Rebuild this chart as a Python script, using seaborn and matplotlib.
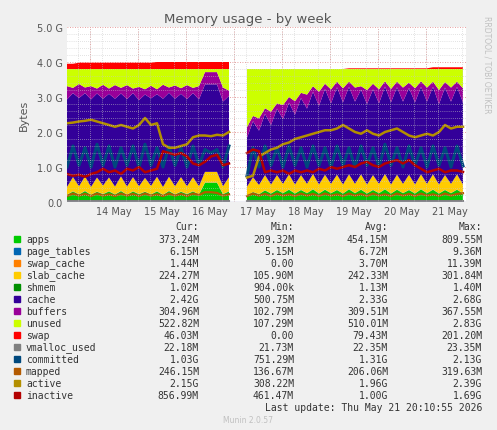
import numpy as np
import matplotlib
matplotlib.use("Agg")
import matplotlib.pyplot as plt
import seaborn as sns
import pandas as pd

NaN = float("nan")
hours = list(range(0, 199, 3))

apps = [0.20,0.30,0.21,0.31,0.20,0.29,0.22,0.30,0.21,0.31,0.20,0.30,0.22,0.29,0.21,0.30,0.20,0.31,0.21,0.29,0.22,0.30,0.21,0.55,0.55,0.55,0.22,0.30,
        NaN,NaN,
        0.18,0.28,0.22,0.33,0.24,0.34,0.25,0.35,0.24,0.34,0.25,0.36,0.24,0.35,0.25,0.34,0.24,0.36,0.25,0.35,0.24,0.34,0.25,0.36,0.24,0.35,0.25,0.34,0.24,0.36,0.25,0.35,0.24,0.34,0.25,0.35,0.24]
page_tables = [0.006]*28 + [NaN,NaN] + [0.006]*37
swap_cache = [0.004]*28 + [NaN,NaN] + [0.002]*37
slab_cache = [0.22,0.40,0.23,0.41,0.22,0.40,0.24,0.39,0.22,0.41,0.23,0.40,0.22,0.39,0.24,0.41,0.22,0.40,0.23,0.41,0.22,0.40,0.23,0.30,0.30,0.30,0.22,0.40,
              NaN,NaN,
              0.25,0.42,0.26,0.43,0.25,0.42,0.26,0.43,0.25,0.42,0.26,0.43,0.25,0.42,0.26,0.43,0.25,0.42,0.26,0.43,0.25,0.42,0.26,0.43,0.25,0.42,0.26,0.43,0.25,0.42,0.26,0.43,0.25,0.42,0.26,0.43,0.25]
shmem = [0.001]*28 + [NaN,NaN] + [0.001]*37
cache = [2.50,2.40,2.52,2.38,2.50,2.40,2.48,2.39,2.51,2.37,2.50,2.40,2.46,2.38,2.50,2.36,2.52,2.40,2.50,2.38,2.49,2.40,2.48,2.50,2.50,2.50,2.42,2.32,
         NaN,NaN,
         1.40,1.60,1.55,1.75,1.70,1.90,1.85,2.05,2.00,2.20,2.15,2.35,2.25,2.45,2.30,2.50,2.35,2.50,2.35,2.42,2.30,2.45,2.30,2.50,2.35,2.50,2.35,2.48,2.35,2.50,2.35,2.50,2.30,2.50,2.35,2.50,2.35]
buffers = [0.38,0.15,0.40,0.16,0.38,0.14,0.40,0.15,0.39,0.16,0.40,0.13,0.38,0.15,0.36,0.14,0.40,0.15,0.38,0.16,0.40,0.15,0.38,0.35,0.35,0.35,0.40,0.15,
           NaN,NaN,
           0.30,0.15,0.35,0.16,0.38,0.15,0.40,0.16,0.38,0.15,0.40,0.16,0.40,0.15,0.40,0.16,0.40,0.15,0.40,0.10,0.40,0.16,0.40,0.15,0.38,0.16,0.40,0.15,0.40,0.16,0.40,0.15,0.40,0.16,0.40,0.15,0.40]
total_mem = 3.80
swap = [0.15,0.15,0.18,0.18,0.18,0.18,0.18,0.18,0.18,0.18,0.18,0.18,0.18,0.18,0.18,0.20,0.20,0.20,0.20,0.20,0.20,0.20,0.20,0.20,0.20,0.20,0.20,0.20,
        NaN,NaN,
        0,0,0,0,0,0,0,0,0,0,0,0,0,0,0,0,0,0.02,0.02,0.02,0.02,0.02,0.02,0.02,0.02,0.02,0.02,0.02,0.02,0.02,0.02,0.05,0.05,0.05,0.05,0.05,0.05]
vmalloc_used = [0.022]*28 + [NaN,NaN] + [0.022]*37
committed = [1.0,1.6,1.05,1.55,1.0,1.65,1.05,1.6,1.0,1.55,1.05,1.6,1.0,1.65,1.05,1.55,1.0,1.6,1.05,1.55,1.0,1.6,1.05,1.5,1.4,1.5,1.0,1.6,
             NaN,NaN,
             0.75,1.55,1.0,1.6,1.05,1.55,1.0,1.6,1.05,1.55,1.0,1.6,1.05,1.55,1.0,1.6,1.05,1.55,1.0,1.6,1.05,1.55,1.0,1.65,1.05,1.55,1.0,1.6,1.05,1.55,1.0,1.6,1.05,1.55,1.0,1.6,1.03]
mapped = [0.17,0.24,0.18,0.23,0.17,0.24,0.18,0.22,0.17,0.24,0.18,0.23,0.17,0.24,0.18,0.22,0.17,0.24,0.18,0.23,0.17,0.24,0.20,0.28,0.28,0.26,0.18,0.22,
          NaN,NaN,
          0.17,0.24,0.18,0.23,0.17,0.24,0.18,0.22,0.17,0.24,0.18,0.23,0.17,0.24,0.18,0.22,0.17,0.24,0.18,0.23,0.17,0.24,0.18,0.22,0.17,0.24,0.18,0.23,0.17,0.24,0.18,0.22,0.17,0.24,0.18,0.23,0.25]
active = [2.25,2.27,2.30,2.32,2.35,2.30,2.25,2.20,2.15,2.20,2.15,2.10,2.20,2.40,2.20,2.25,1.65,1.55,1.55,1.60,1.65,1.85,1.90,1.90,1.88,1.92,1.90,2.00,
          NaN,NaN,
          0.70,0.75,1.30,1.40,1.50,1.55,1.65,1.70,1.80,1.85,1.90,1.95,2.00,2.05,2.05,2.10,2.20,2.10,2.00,1.95,2.05,1.95,1.90,2.00,2.05,2.10,2.00,1.90,1.85,1.90,1.95,1.90,2.00,2.20,2.10,2.15,2.15]
inactive = [0.80,0.75,0.78,0.72,0.80,0.85,0.95,0.85,0.90,0.80,0.95,0.90,1.00,0.85,0.90,0.95,1.45,1.40,1.35,1.40,1.30,1.10,1.05,1.15,1.30,1.35,1.05,1.10,
            NaN,NaN,
            1.40,1.50,1.45,0.85,0.90,0.85,0.90,0.80,0.90,0.85,0.90,0.85,0.95,0.90,1.00,0.95,1.00,1.05,1.00,1.10,1.15,1.05,1.00,1.10,1.15,1.20,1.10,1.20,1.05,0.95,0.85,0.90,0.95,0.85,0.90,0.90,0.86]

names = ["apps","page_tables","swap_cache","slab_cache","shmem","cache","buffers","unused","swap",
         "vmalloc_used","committed","mapped","active","inactive"]
colors = ["#00CC00","#0066B3","#FF8000","#FFCC00","#008F00","#330099","#990099","#CCFF00","#FF0000",
          "#808080","#00487D","#B35A00","#B38F00","#B30000"]
cur = ["373.24M","6.15M","1.44M","224.27M","1.02M","2.42G","304.96M","522.82M","46.03M","22.18M","1.03G","246.15M","2.15G","856.99M"]
mins = ["209.32M","5.15M","0.00","105.90M","904.00k","500.75M","102.79M","107.29M","0.00","21.73M","751.29M","136.67M","308.22M","461.47M"]
avgs = ["454.15M","6.72M","3.70M","242.33M","1.13M","2.33G","309.51M","510.01M","79.43M","22.35M","1.31G","206.06M","1.96G","1.00G"]
maxs = ["809.55M","9.36M","11.39M","301.84M","1.40M","2.68G","367.55M","2.83G","201.20M","23.35M","2.13G","319.63M","2.39G","1.69G"]

t = np.array(hours, dtype=float)
A = np.array([apps, page_tables, swap_cache, slab_cache, shmem, cache, buffers])
unused = total_mem - A.sum(axis=0)
stack = np.vstack([A, unused, np.array(swap)])

fig = plt.figure(figsize=(4.97, 4.31), dpi=100)
fig.patch.set_facecolor("#F0F0F0")
ax = fig.add_axes([67/497, 1-203/431, 399/497, 175/431])
ax.set_facecolor("white")

segs = [(0, 28), (30, 67)]
for a, b in segs:
    ax.stackplot(t[a:b], stack[:, a:b], colors=colors[:9], linewidth=0)

df = pd.DataFrame({"t": t, "vmalloc_used": vmalloc_used, "committed": committed,
                   "mapped": mapped, "active": active, "inactive": inactive})
widths = {"vmalloc_used": 1.5, "committed": 2.2, "mapped": 1.6, "active": 1.8, "inactive": 1.8}
for nm, c in zip(names[9:], colors[9:]):
    for a, b in segs:
        sns.lineplot(x=df["t"][a:b], y=df[nm][a:b], ax=ax, color=c, linewidth=widths[nm])

ax.set_xlim(0, 199.5)
ax.set_ylim(0, 5.0)
ax.set_yticks([0, 1, 2, 3, 4, 5])
ax.set_yticklabels(["0.0", "1.0 G", "2.0 G", "3.0 G", "4.0 G", "5.0 G"])
day_ticks = [23.5 + 24*k for k in range(8)]
ax.set_xticks(day_ticks)
ax.set_xticklabels(["14 May","15 May","16 May","17 May","18 May","19 May","20 May","21 May"])
ax.set_xticks(np.arange(5.5, 199.5, 6), minor=True)
ax.set_yticks(np.arange(0, 5.01, 0.2), minor=True)
ax.grid(True, which="minor", color="#C8C8C8", linestyle=(0, (1, 2)), linewidth=0.5)
ax.grid(False, which="major")
for d in np.arange(11.5, 199.5, 24):
    ax.axvline(d, color="#E08080", linestyle=(0, (1, 2)), linewidth=0.6, zorder=0.5)
for y in range(1, 6):
    ax.axhline(y, color="#E08080", linestyle=(0, (1, 2)), linewidth=0.6, zorder=0.5)
ax.set_axisbelow(False)
for s in ax.spines.values():
    s.set_visible(False)
ax.axhline(0, color="#B0B0D0", linewidth=1)
ax.tick_params(axis="both", which="both", length=0, labelsize=7, colors="#555555", pad=3)
ax.set_xlabel("")
ax.set_ylabel("Bytes", fontsize=8, color="#555555", labelpad=6)

fig.text(248/497, 1-19/431, "Memory usage - by week", ha="center", va="center", fontsize=9.5, color="#555555")
fig.text(487/497, 1-65/431, "RRDTOOL / TOBI OETIKER", rotation=270, ha="center", va="center", fontsize=5.5, color="#C0C0C0")

mono = "DejaVu Sans Mono"
fs = 7
def fy(py):
    return 1 - py/431
for hdr, px in zip(["Cur:", "Min:", "Avg:", "Max:"], [199, 294, 388, 482]):
    fig.text(px/497, fy(227), hdr, ha="right", va="center", family=mono, fontsize=fs, color="#333333")
for i, nm in enumerate(names):
    py = 240 + 12*i
    fig.patches.append(plt.Rectangle((14/497, fy(py+3)), 6/497, 6/431, transform=fig.transFigure, color=colors[i]))
    fig.text(26/497, fy(py), nm, ha="left", va="center", family=mono, fontsize=fs, color="#333333")
    for vals, px in zip([cur, mins, avgs, maxs], [199, 294, 388, 482]):
        fig.text(px/497, fy(py), vals[i], ha="right", va="center", family=mono, fontsize=fs, color="#333333")
fig.text(482/497, fy(408), "Last update: Thu May 21 20:10:55 2026", ha="right", va="center", family=mono, fontsize=fs, color="#333333")
fig.text(248/497, fy(421), "Munin 2.0.57", ha="center", va="center", fontsize=5.5, color="#C0C0C0")

fig.savefig("out.png", dpi=100, facecolor=fig.get_facecolor())
